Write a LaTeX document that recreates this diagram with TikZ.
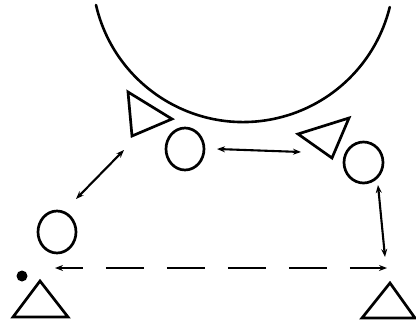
\documentclass[tikz,border=0pt]{standalone}
\usetikzlibrary{arrows.meta,shapes.geometric}
\tikzset{
  ink/.style={line width=2.7pt, line join=miter, line cap=round},
  ring/.style={ellipse, draw, ink, inner sep=0pt},
  tri/.style={ink, line join=miter},
  link/.style={line width=2.1pt, {Stealth[length=8pt,width=6pt]}-{Stealth[length=8pt,width=6pt]}},
  dashlink/.style={link, dash pattern=on 38pt off 23pt, dash phase=15pt}
}
\begin{document}
\begin{tikzpicture}[x=1pt,y=-1pt]
\useasboundingbox (0,0) rectangle (416,327);
% big arc
\draw[ink, line width=2.6pt] (96,5) arc[start angle=167, end angle=13.8, radius=151];
% triangles
\draw[tri] (128,92) -- (172,119) -- (132,136) -- cycle;
\draw[tri] (298,134) -- (349,118) -- (332,158) -- cycle;
\draw[tri] (40,281) -- (68,317) -- (13,317) -- cycle;
\draw[tri] (390,283) -- (415,318) -- (362,318) -- cycle;
% circles
\node[ring, minimum width=38pt, minimum height=42pt] (c1) at (185,149) {};
\node[ring, minimum width=39pt, minimum height=41pt] (c2) at (363.5,162.5) {};
\node[ring, minimum width=38pt, minimum height=42pt] (c3) at (57,232) {};
% dot
\fill (22,276) circle[radius=5.5];
% arrow end points
\coordinate (a1s) at (124,150);
\coordinate (a1e) at (76,199);
\coordinate (a2s) at (217,149);
\coordinate (a2e) at (301,152);
\coordinate (a3s) at (378,185);
\coordinate (a3e) at (385,257);
\coordinate (d1) at (55,268);
\coordinate (d2) at (387,268);
\draw[link] (a1s) -- (a1e);
\draw[link] (a2s) -- (a2e);
\draw[link] (a3s) -- (a3e);
\draw[dashlink] (d1) -- (d2);
\end{tikzpicture}
\end{document}
